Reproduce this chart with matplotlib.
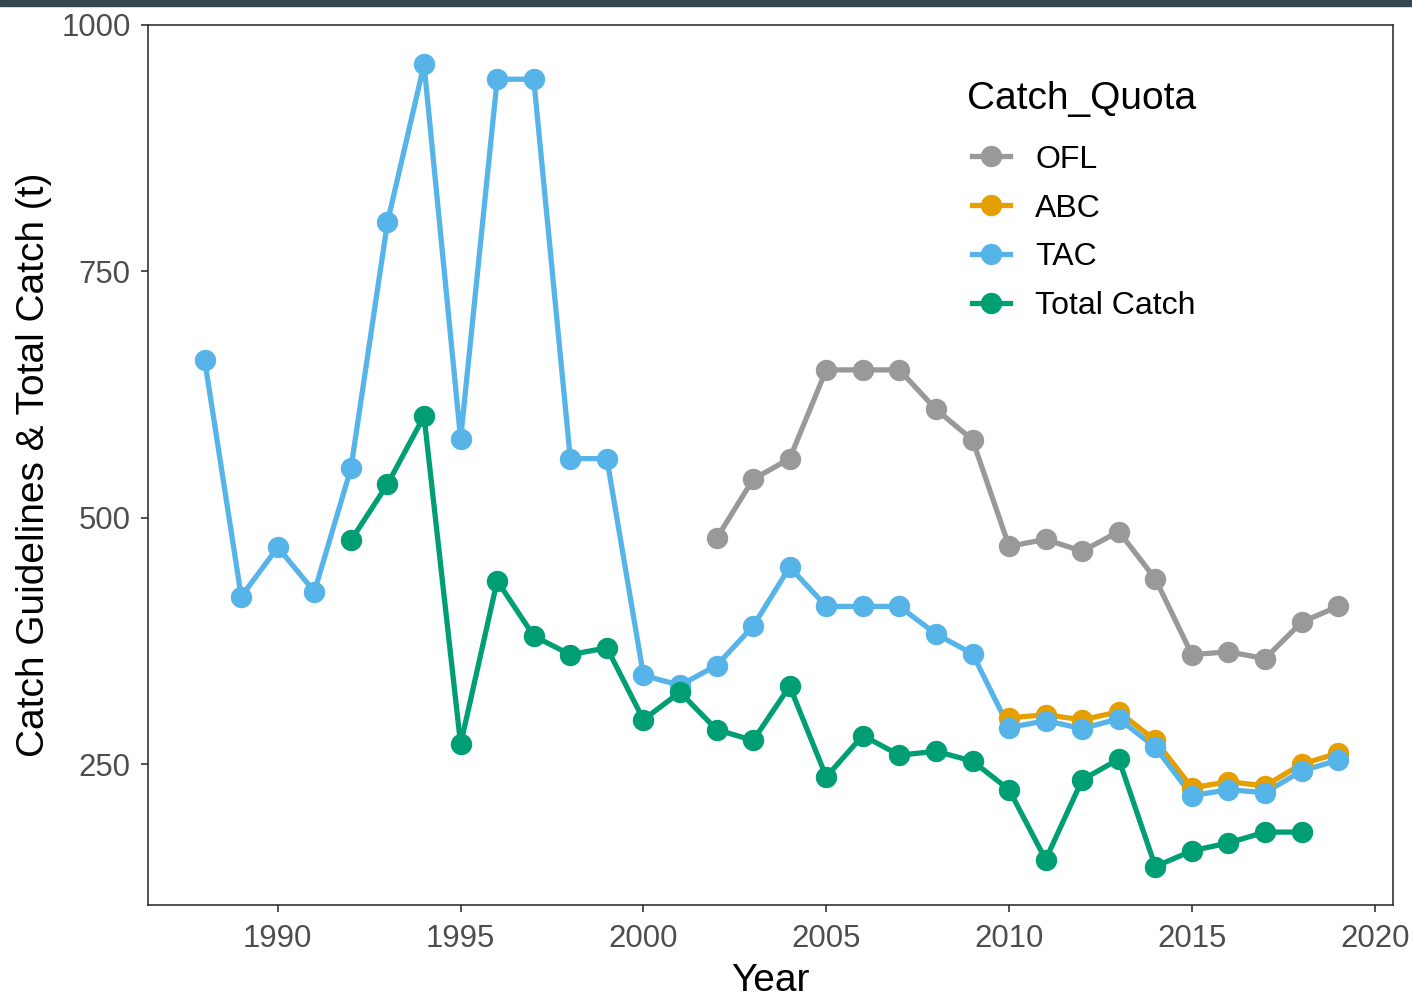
import numpy as np
import matplotlib
matplotlib.use("Agg")
import matplotlib.pyplot as plt
from matplotlib.patches import Rectangle

plt.rcParams['font.family'] = ['Liberation Sans', 'DejaVu Sans']

# data
tac_years = list(range(1988, 2020))
tac = [660, 420, 470, 425, 550, 800, 960, 580, 945, 945, 560, 560,
       340, 330, 350, 390, 450, 410, 410, 410, 382, 362,
       287, 294, 286, 296, 267, 218, 224, 221, 243, 254]

ofl_years = list(range(2002, 2020))
ofl = [479, 539, 560, 650, 650, 650, 610, 579,
       471, 478, 466, 486, 438, 361, 364, 357, 394, 410]

abc_years = list(range(2010, 2020))
abc = [297, 300, 295, 303, 274, 226, 232, 228, 250, 261]

catch_years = list(range(1992, 2019))
catch = [477, 534, 603, 270, 436, 380, 361, 368, 295, 323, 285, 274, 329,
         237, 279, 259, 263, 253, 224, 153, 234, 255, 146, 162, 170, 181, 181]

series = [
    ("OFL", ofl_years, ofl, "#999999"),
    ("ABC", abc_years, abc, "#E69F00"),
    ("TAC", tac_years, tac, "#56B4E9"),
    ("Total Catch", catch_years, catch, "#009E73"),
]

fig = plt.figure(figsize=(14.12, 9.97), dpi=100)
ax = fig.add_axes([148 / 1412, 1 - 905 / 997, (1393 - 148) / 1412, (905 - 25) / 997])

# dark strip along the top edge
fig.patches.append(Rectangle((0, 1 - 6 / 997), 1, 6 / 997, transform=fig.transFigure,
                             color="#37474F", zorder=0))

lw, ms = 3.8, 15.4
handles = []
# lines first, then points on top (like ggplot layers)
for name, yrs, vals, col in series:
    ax.plot(yrs, vals, color=col, lw=lw, zorder=2)
for name, yrs, vals, col in series:
    ax.plot(yrs, vals, "o", color=col, ms=ms, mew=0, zorder=3)
    h, = ax.plot([], [], "-o", color=col, lw=lw, ms=ms, mew=0, label=name)
    handles.append(h)

ax.set_xlim(1986.45, 2020.5)
ax.set_ylim(107, 1000)
ax.set_xticks(range(1990, 2021, 5))
ax.set_yticks([250, 500, 750, 1000])

for s in ax.spines.values():
    s.set_linewidth(1.2)
    s.set_color("#333333")
ax.tick_params(axis="both", length=5, width=1.2, color="#333333",
               labelsize=22.4, labelcolor="#4D4D4D")
ax.tick_params(axis="x", pad=8.5)
ax.tick_params(axis="y", pad=7.5)

ax.set_xlabel("Year", fontsize=28, color="black", labelpad=7)
ax.set_ylabel("Catch Guidelines & Total Catch (t)", fontsize=28, color="black", labelpad=6.5)

ax.text(0.658, 0.916, "Catch_Quota", transform=ax.transAxes, fontsize=28,
        ha="left", va="center")
leg = ax.legend(handles=handles, loc="upper left",
                bbox_to_anchor=(0.662, 0.864), frameon=False, fontsize=23,
                handlelength=1.19, handletextpad=0.78, labelspacing=0.59,
                borderaxespad=0, borderpad=0)

fig.savefig("out.png", dpi=100)
